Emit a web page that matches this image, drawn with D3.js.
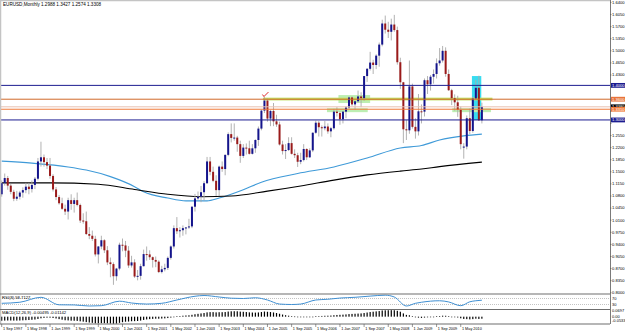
<!DOCTYPE html>
<html>
<head>
<meta charset="utf-8">
<script src="https://cdn.jsdelivr.net/npm/d3@7"></script>
<style>
  body { margin: 0; background: #fff; }
  svg text { font-family: "Liberation Sans", Arial, sans-serif; }
</style>
</head>
<body>
<svg id="chart" width="625" height="331"></svg>
<script>
// EURUSD monthly bars, Sep 1997 .. Dec 2010 (index 0 = Sep 1997)
var opens = [1.085,1.117,1.132,1.110,1.092,1.072,1.078,1.090,1.097,1.107,1.100,1.112,1.130,1.180,1.192,1.178,
  1.168,1.138,1.099,1.077,1.059,1.043,1.035,1.068,1.057,1.068,1.054,1.009,
  1.007,0.970,0.965,0.956,0.911,0.934,0.952,0.923,0.888,0.883,0.848,0.870,
  0.939,0.937,0.922,0.879,0.888,0.847,0.849,0.877,0.912,0.911,0.903,0.895,
  0.890,0.860,0.868,0.872,0.901,0.934,0.987,0.978,0.981,0.987,0.989,0.992,
  1.049,1.073,1.078,1.091,1.117,1.180,1.150,1.124,1.097,1.165,1.158,1.199,
  1.259,1.248,1.249,1.230,1.196,1.220,1.218,1.202,1.218,1.242,1.275,1.327,
  1.356,1.304,1.326,1.296,1.287,1.229,1.210,1.213,1.233,1.202,1.198,1.179,
  1.184,1.216,1.192,1.212,1.263,1.292,1.279,1.276,1.281,1.267,1.276,1.324,
  1.320,1.302,1.324,1.336,1.365,1.345,1.354,1.368,1.363,1.427,1.448,1.466,
  1.459,1.486,1.518,1.579,1.561,1.555,1.576,1.560,1.467,1.409,1.273,1.270,
  1.397,1.280,1.267,1.325,1.324,1.415,1.403,1.425,1.433,1.464,1.472,1.500,
  1.433,1.386,1.363,1.351,1.329,1.220,1.223,1.305,1.268,1.362,1.393,1.299];
var highs = [1.125,1.145,1.138,1.115,1.098,1.095,1.095,1.105,1.118,1.118,1.125,1.135,1.190,1.237,1.200,1.190,
  1.190,1.143,1.106,1.083,1.075,1.055,1.075,1.085,1.075,1.090,1.058,1.030,
  1.035,0.990,0.980,0.965,0.935,0.965,0.955,0.935,0.902,0.888,0.872,0.945,
  0.957,0.950,0.935,0.907,0.897,0.866,0.884,0.925,0.934,0.923,0.905,0.905,
  0.894,0.878,0.884,0.905,0.937,0.995,1.019,0.990,0.995,0.990,1.014,1.050,
  1.086,1.093,1.109,1.123,1.193,1.193,1.165,1.140,1.168,1.180,1.200,1.264,
  1.290,1.290,1.254,1.240,1.230,1.232,1.240,1.230,1.244,1.281,1.330,1.367,
  1.362,1.329,1.349,1.315,1.295,1.240,1.230,1.250,1.250,1.215,1.205,1.205,
  1.230,1.218,1.218,1.264,1.298,1.297,1.284,1.297,1.290,1.280,1.332,1.337,
  1.325,1.326,1.340,1.368,1.368,1.355,1.385,1.380,1.427,1.450,1.497,1.474,
  1.490,1.524,1.590,1.602,1.584,1.593,1.604,1.570,1.480,1.410,1.300,1.472,
  1.405,1.305,1.375,1.345,1.420,1.427,1.430,1.446,1.478,1.508,1.514,1.510,
  1.446,1.390,1.374,1.370,1.339,1.233,1.313,1.333,1.367,1.416,1.428,1.350];
var lows = [1.078,1.110,1.098,1.085,1.065,1.066,1.070,1.075,1.088,1.085,1.090,1.100,1.125,1.165,1.165,1.158,
  1.130,1.093,1.068,1.055,1.040,1.025,1.012,1.040,1.032,1.050,1.002,1.000,
  0.967,0.955,0.950,0.905,0.885,0.926,0.915,0.880,0.845,0.823,0.835,0.865,
  0.920,0.903,0.872,0.873,0.843,0.836,0.838,0.876,0.893,0.895,0.873,0.874,
  0.857,0.856,0.862,0.866,0.896,0.928,0.970,0.960,0.965,0.969,0.985,0.987,
  1.035,1.069,1.062,1.067,1.115,1.140,1.120,1.080,1.080,1.150,1.140,1.195,
  1.235,1.240,1.208,1.176,1.190,1.200,1.200,1.200,1.205,1.225,1.270,1.320,
  1.295,1.282,1.282,1.280,1.226,1.200,1.187,1.210,1.200,1.190,1.164,1.172,
  1.180,1.184,1.190,1.207,1.260,1.252,1.252,1.270,1.260,1.250,1.272,1.310,
  1.286,1.290,1.305,1.332,1.341,1.329,1.350,1.337,1.355,1.410,1.443,1.433,
  1.447,1.454,1.513,1.550,1.537,1.530,1.555,1.460,1.390,1.233,1.242,1.260,
  1.275,1.246,1.255,1.290,1.310,1.375,1.385,1.405,1.420,1.457,1.466,1.425,
  1.384,1.343,1.327,1.309,1.215,1.188,1.215,1.259,1.263,1.358,1.297,1.290];
var closes = [1.117,1.132,1.110,1.092,1.072,1.078,1.090,1.097,1.107,1.100,1.112,1.130,1.180,1.192,1.178,1.168,
  1.138,1.099,1.077,1.059,1.043,1.035,1.068,1.057,1.068,1.054,1.009,1.007,
  0.970,0.965,0.956,0.911,0.934,0.952,0.923,0.888,0.883,0.848,0.870,0.939,
  0.937,0.922,0.879,0.888,0.847,0.849,0.877,0.912,0.911,0.903,0.895,0.890,
  0.860,0.868,0.872,0.901,0.934,0.987,0.978,0.981,0.987,0.989,0.992,1.049,
  1.073,1.078,1.091,1.117,1.180,1.150,1.124,1.097,1.165,1.158,1.199,1.259,
  1.248,1.249,1.230,1.196,1.220,1.218,1.202,1.218,1.242,1.275,1.327,1.356,
  1.304,1.326,1.296,1.287,1.229,1.210,1.213,1.233,1.202,1.198,1.179,1.184,
  1.216,1.192,1.212,1.263,1.292,1.279,1.276,1.281,1.267,1.276,1.324,1.320,
  1.302,1.324,1.336,1.365,1.345,1.354,1.368,1.363,1.427,1.448,1.466,1.459,
  1.486,1.518,1.579,1.561,1.555,1.576,1.560,1.467,1.409,1.273,1.270,1.397,
  1.280,1.267,1.325,1.324,1.415,1.403,1.425,1.433,1.464,1.472,1.500,1.433,
  1.386,1.363,1.351,1.329,1.230,1.223,1.305,1.268,1.362,1.393,1.299,1.338];

// moving averages at a few months
var maBlueMonths = [0,10,22,28,36,44,47,55,61,68,72,80,86,98,110,121,132,139,145,153,159];
var maBlueValues = [1.181,1.175,1.164,1.155,1.136,1.107,1.092,1.074,1.066,1.066,1.074,1.098,1.120,1.145,1.164,1.190,1.219,1.226,1.242,1.254,1.259];
var maBlackMonths = [0,16,32,44,55,66,76,88,99,110,121,132,139,145,159];
var maBlackValues = [1.118,1.118,1.114,1.099,1.085,1.078,1.080,1.094,1.109,1.126,1.141,1.152,1.158,1.165,1.178];

// RSI(8), read at a few months
var rsiMonths = [0,6,13,19,24,29,33,39,43,48,53,58,64,67,72,76,80,84,88,92,96,99,104,108,112,117,122,127,130,134,137,139,145,148,152,155,157,159];
var rsiValues = [38,45,78,28,27,20,22,52,40,33,38,60,85,90,80,72,70,75,60,33,30,33,60,65,73,78,86,92,80,20,38,45,55,47,22,48,55,58.7];

// MACD(12,26,9) histogram, one per month
var macdValues = [-0.050,-0.048,-0.047,-0.047,-0.048,-0.048,-0.047,-0.045,-0.043,-0.041,-0.038,-0.035,-0.028,-0.020,-0.015,-0.012,
  -0.012,-0.016,-0.022,-0.030,-0.037,-0.044,-0.046,-0.049,-0.050,-0.052,-0.057,-0.061,
  -0.067,-0.072,-0.076,-0.082,-0.082,-0.080,-0.080,-0.082,-0.084,-0.087,-0.085,-0.076,
  -0.068,-0.062,-0.060,-0.056,-0.055,-0.053,-0.048,-0.040,-0.034,-0.030,-0.027,-0.025,
  -0.025,-0.023,-0.021,-0.017,-0.011,-0.002,0.004,0.008,0.012,0.015,0.017,0.023,
  0.030,0.035,0.040,0.045,0.053,0.056,0.056,0.053,0.055,0.055,0.057,0.063,
  0.066,0.067,0.066,0.062,0.060,0.057,0.053,0.051,0.050,0.052,0.057,0.063,
  0.060,0.057,0.052,0.045,0.036,0.026,0.018,0.012,0.006,0.002,-0.003,-0.005,
  -0.005,-0.006,-0.005,-0.001,0.004,0.007,0.009,0.011,0.012,0.014,0.018,0.021,
  0.023,0.025,0.028,0.032,0.034,0.036,0.038,0.040,0.045,0.051,0.057,0.061,
  0.065,0.069,0.076,0.078,0.079,0.080,0.079,0.072,0.061,0.040,0.022,0.017,
  0.004,-0.008,-0.012,-0.015,-0.011,-0.008,-0.004,0.000,0.004,0.008,0.012,0.011,
  0.006,0.000,-0.005,-0.010,-0.020,-0.028,-0.030,-0.033,-0.030,-0.025,-0.028,-0.025];

// axis labels
var priceTicks = [0.800,0.835,0.870,0.905,0.940,0.975,1.010,1.045,1.080,1.115,1.150,1.185,1.220,
  1.255,1.290,1.325,1.360,1.395,1.430,1.465,1.500,1.535,1.570,1.605,1.640];
var dateTickMonths = [0,8,16,24,32,40,48,56,64,72,80,88,96,104,112,120,128,136,144,152];
var dateTickLabels = ["1 Sep 1997","1 May 1998","1 Jan 1999","1 Sep 1999","1 May 2000","1 Jan 2001",
  "1 Sep 2001","1 May 2002","1 Jan 2003","1 Sep 2003","1 May 2004","1 Jan 2005","1 Sep 2005",
  "1 May 2006","1 Jan 2007","1 Sep 2007","1 May 2008","1 Jan 2009","1 Sep 2009","1 May 2010"];
var rsiTicks = [70, 30];
var macdTicks = [0.0697, 0, -0.0533];

// drawn objects: [fromMonth, toMonth, topPrice, bottomPrice]
var yellowBand = [86.5, 162.5, 1.3645, 1.3565];
var greenBoxes = [[111.5, 122, 1.372, 1.349], [107.7, 121.2, 1.334, 1.3225], [149.2, 162, 1.334, 1.3225]];
var cyanBox = [155.7, 158.8, 1.427, 1.300];
var hLinePrices = [1.4000, 1.3600, 1.3380, 1.3310, 1.3000];
var checkMark = [87, 1.372];

var headerText = "EURUSD,Monthly 1.2988 1.3427 1.2574 1.3308";
var rsiText = "RSI(8) 58.7127";
var macdText = "MACD(12,26,9) -0.00495 -0.01142";

var svg = d3.select("#chart");
var plotR = 610;

var x = d3.scaleLinear().domain([0, 159]).range([1.7, 1.7 + 3.02 * 159]);
var y = d3.scaleLinear().domain([0.7965, 1.647]).range([294, 0]);
var yRsi = d3.scaleLinear().domain([0, 100]).range([309, 294]);
var yMacd = d3.scaleLinear().domain([-0.09, 0.082]).range([324, 310]);

svg.append("rect").attr("width", 625).attr("height", 331).attr("fill", "#fff");

svg.append("clipPath").attr("id", "mainClip")
  .append("rect").attr("x", 0).attr("y", 0).attr("width", plotR).attr("height", 294);
var main = svg.append("g").attr("clip-path", "url(#mainClip)");

// rectangles behind the bars
main.append("rect")
  .attr("x", x(cyanBox[0])).attr("width", x(cyanBox[1]) - x(cyanBox[0]))
  .attr("y", y(cyanBox[2])).attr("height", y(cyanBox[3]) - y(cyanBox[2]))
  .attr("fill", "#38dcf0");

main.selectAll(".gbox").data(greenBoxes).enter().append("rect")
  .attr("x", function(d) { return x(d[0]); })
  .attr("width", function(d) { return x(d[1]) - x(d[0]); })
  .attr("y", function(d) { return y(d[2]); })
  .attr("height", function(d) { return y(d[3]) - y(d[2]); })
  .attr("fill", "#bdeeb2");

main.append("rect")
  .attr("x", x(yellowBand[0])).attr("width", x(yellowBand[1]) - x(yellowBand[0]))
  .attr("y", y(yellowBand[2])).attr("height", y(yellowBand[3]) - y(yellowBand[2]))
  .attr("fill", "#c2e062");

// moving averages
var maLine = d3.line()
  .x(function(d) { return x(d[0]); })
  .y(function(d) { return y(d[1]); })
  .curve(d3.curveMonotoneX);

main.append("path")
  .attr("d", maLine(d3.zip(maBlueMonths, maBlueValues)))
  .attr("fill", "none").attr("stroke", "#3f9ad8").attr("stroke-width", 1.1);
main.append("path")
  .attr("d", maLine(d3.zip(maBlackMonths, maBlackValues)))
  .attr("fill", "none").attr("stroke", "#000").attr("stroke-width", 1.1);

// candles
var bars = d3.range(opens.length);
main.selectAll(".wick").data(bars).enter().append("line")
  .attr("x1", function(i) { return x(i); })
  .attr("x2", function(i) { return x(i); })
  .attr("y1", function(i) { return y(highs[i]); })
  .attr("y2", function(i) { return y(lows[i]); })
  .attr("stroke", "#a9a9a9").attr("stroke-width", 0.9);

main.selectAll(".body").data(bars).enter().append("rect")
  .attr("x", function(i) { return x(i) - 1; })
  .attr("width", 2)
  .attr("y", function(i) { return y(Math.max(opens[i], closes[i])); })
  .attr("height", function(i) { return Math.max(1, Math.abs(y(opens[i]) - y(closes[i]))); })
  .attr("fill", function(i) { return closes[i] >= opens[i] ? "#14148c" : "#9a1a1a"; });

// horizontal lines
var hColors = ["#1c1c90", "#d0692a", "#e8c0b0", "#f07a3a", "#1c1c90"];
main.selectAll(".hl").data(hLinePrices).enter().append("line")
  .attr("x1", 0).attr("x2", plotR)
  .attr("y1", function(d) { return y(d); })
  .attr("y2", function(d) { return y(d); })
  .attr("stroke", function(d, i) { return hColors[i]; })
  .attr("stroke-width", 1);

// check mark arrow
var cx = x(checkMark[0]), cy = y(checkMark[1]);
main.append("path")
  .attr("d", "M" + (cx - 2) + "," + (cy - 0.5) + "L" + (cx - 0.5) + "," + (cy + 1.5) + "L" + (cx + 4) + "," + (cy - 3))
  .attr("fill", "none").attr("stroke", "#e02828").attr("stroke-width", 1);

// RSI panel
svg.append("clipPath").attr("id", "rsiClip")
  .append("rect").attr("x", 0).attr("y", 294).attr("width", plotR).attr("height", 15);
var rsiG = svg.append("g").attr("clip-path", "url(#rsiClip)");
rsiG.selectAll(".lvl").data(rsiTicks).enter().append("line")
  .attr("x1", 0).attr("x2", plotR)
  .attr("y1", function(d) { return yRsi(d); })
  .attr("y2", function(d) { return yRsi(d); })
  .attr("stroke", "#9a9a9a").attr("stroke-width", 0.6).attr("stroke-dasharray", "1,1");
rsiG.append("path")
  .attr("d", d3.line()
    .x(function(d) { return x(d[0]); })
    .y(function(d) { return yRsi(d[1]); })
    .curve(d3.curveMonotoneX)(d3.zip(rsiMonths, rsiValues)))
  .attr("fill", "none").attr("stroke", "#3f8fd2").attr("stroke-width", 1);

// MACD panel
svg.selectAll(".macd").data(bars).enter().append("rect")
  .attr("x", function(i) { return x(i) - 0.6; })
  .attr("width", 1.2)
  .attr("y", function(i) { return Math.min(yMacd(0), yMacd(macdValues[i])); })
  .attr("height", function(i) { return Math.max(0.6, Math.abs(yMacd(macdValues[i]) - yMacd(0))); })
  .attr("fill", "#000");

// frames
var frame = svg.append("g").attr("fill", "none");
frame.append("line").attr("x1", 0.5).attr("x2", 0.5).attr("y1", 0).attr("y2", 324).attr("stroke", "#c4c4c4").attr("stroke-width", 1.5);
frame.append("line").attr("x1", 0).attr("x2", plotR).attr("y1", 0.5).attr("y2", 0.5).attr("stroke", "#c4c4c4").attr("stroke-width", 1.5);
frame.append("line").attr("x1", plotR + 0.5).attr("x2", plotR + 0.5).attr("y1", 0).attr("y2", 324).attr("stroke", "#7a7a7a");
[294, 309.5, 324].forEach(function(yy) {
  frame.append("line").attr("x1", 0).attr("x2", plotR).attr("y1", yy).attr("y2", yy)
    .attr("stroke", "#6e6e6e").attr("stroke-width", 1.2);
});

// texts
svg.append("text").attr("x", 3).attr("y", 6).attr("font-size", 4.6).text(headerText);
svg.append("text").attr("x", 2).attr("y", 298.5).attr("font-size", 4.2).text(rsiText);
svg.append("text").attr("x", 2).attr("y", 314).attr("font-size", 4.2).text(macdText);

// price axis: labels hidden under a line's price box are left out, as on the reference
var axisG = svg.append("g");
var shownTicks = priceTicks.filter(function(t) {
  return hLinePrices.every(function(p) { return Math.abs(y(t) - y(p)) > 3.5; });
});
axisG.selectAll(".pt").data(priceTicks).enter().append("line")
  .attr("x1", plotR).attr("x2", plotR + 1.5)
  .attr("y1", function(d) { return y(d); }).attr("y2", function(d) { return y(d); })
  .attr("stroke", "#555").attr("stroke-width", 0.6);
axisG.selectAll(".pl").data(shownTicks).enter().append("text")
  .attr("x", plotR + 2).attr("y", function(d) { return y(d) + 1.4; })
  .attr("font-size", 4.1).text(function(d) { return d.toFixed(4); });

// price boxes for the horizontal lines
var boxFill = ["#1c1c90", "#e8743b", "#000000", "#f07a3a", "#1c1c90"];
var boxes = axisG.selectAll(".pb").data(hLinePrices).enter().append("g")
  .attr("transform", function(d) { return "translate(" + (plotR + 1) + "," + y(d) + ")"; });
boxes.append("rect").attr("x", 0).attr("y", -2.4).attr("width", 14).attr("height", 4.8)
  .attr("fill", function(d, i) { return boxFill[i]; });
boxes.append("text").attr("x", 1).attr("y", 1.4).attr("font-size", 4.1).attr("fill", "#fff")
  .text(function(d) { return d.toFixed(4); });

// RSI and MACD axis labels
axisG.selectAll(".rl").data(rsiTicks).enter().append("text")
  .attr("x", plotR + 2).attr("y", function(d) { return yRsi(d) + 1.4; })
  .attr("font-size", 4).text(function(d) { return d; });
axisG.selectAll(".ml").data(macdTicks).enter().append("text")
  .attr("x", plotR + 2).attr("y", function(d) { return yMacd(d) + 1.4; })
  .attr("font-size", 4).text(function(d) { return d === 0 ? "0.00" : d.toFixed(4); });

// date axis
var dateG = svg.append("g");
dateG.selectAll(".dt").data(dateTickMonths).enter().append("line")
  .attr("x1", function(d) { return x(d); }).attr("x2", function(d) { return x(d); })
  .attr("y1", 324).attr("y2", 327)
  .attr("stroke", "#555").attr("stroke-width", 0.6);
dateG.selectAll(".dl").data(dateTickMonths).enter().append("text")
  .attr("x", function(d) { return x(d) + 1.2; }).attr("y", 329.8)
  .attr("font-size", 3.8).text(function(d, i) { return dateTickLabels[i]; });
</script>
</body>
</html>
